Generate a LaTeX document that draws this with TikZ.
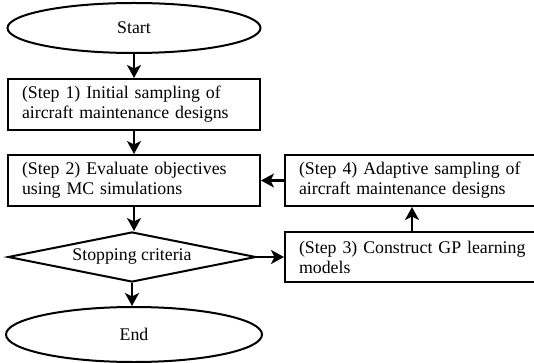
\documentclass[tikz,border=0pt]{standalone}
\usepackage{fontspec}
\setmainfont{Liberation Serif}
\usetikzlibrary{shapes.geometric,arrows.meta}
\begin{document}
\begin{tikzpicture}[x=1pt,y=-1pt,
  txt/.style={font=\fontsize{17.8}{20}\selectfont},
  proc/.style={txt, rectangle, draw=black, line width=2pt, inner xsep=14pt, inner ysep=0pt,
    minimum height=51pt, align=left},
  term/.style={txt, ellipse, draw=black, line width=2pt, inner sep=0pt},
  decision/.style={txt, diamond, draw=black, line width=2pt, inner sep=0pt, aspect=5},
  arr/.style={line width=2pt, -{Stealth[length=13pt,width=14pt,inset=3.5pt]}}]
\useasboundingbox (0,0) rectangle (534,363);

\node[term, minimum width=253pt, minimum height=50pt] (start) at (134,28) {Start};
\node[proc, text width=224pt] (s1) at (134,104.5) {(Step 1) Initial sampling of\\aircraft maintenance designs};
\node[proc, text width=224pt] (s2) at (134,180.5) {(Step 2) Evaluate objectives\\using MC simulations};
\node[decision, minimum width=248pt, minimum height=50pt] (stop) at (132,257) {Stopping criteria};
\node[term, minimum width=256pt, minimum height=55pt] (end) at (134,334.5) {End};
\node[proc, text width=250pt] (s4) at (424,180.5) {(Step 4) Adaptive sampling of\\aircraft maintenance designs};
\node[proc, text width=250pt, minimum height=50pt] (s3) at (424,257) {(Step 3) Construct GP learning\\models};
\coordinate (up) at (412,220);

\draw[arr] (start.south) -- (s1.north);
\draw[arr] (s1.south) -- (s2.north);
\draw[arr] (s2.south) -- (s2.south |- stop.north);
\draw[arr] (stop.south) -- (stop.south |- end.north);
\draw[arr] (stop.east) -- (s3.west);
\draw[arr] (s3.north -| up) -- (s4.south -| up);
\draw[arr] (s4.west) -- (s2.east);
\end{tikzpicture}
\end{document}
